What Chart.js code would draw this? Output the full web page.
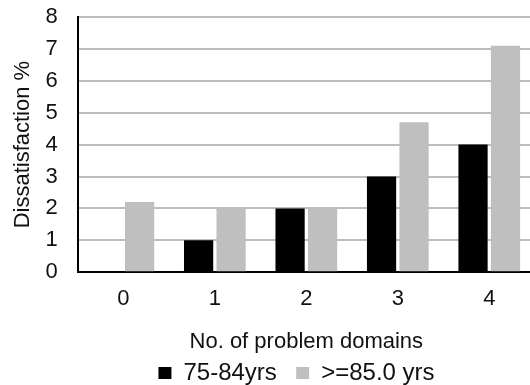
<!DOCTYPE html>
<html>
<head>
<meta charset="utf-8">
<script src="https://cdn.jsdelivr.net/npm/chart.js@4"></script>
<style>
html,body{margin:0;padding:0;background:#fff;overflow:hidden;width:530px;height:385px;}
#wrap{position:absolute;left:0;top:0;width:590px;height:385px;}
</style>
</head>
<body>
<div id="wrap"><canvas id="c" width="590" height="385"></canvas></div>
<script>
const categories = ['0', '1', '2', '3', '4'];
const series1Name = '75-84yrs';
const series1 = [0, 1, 2, 3, 4];
const series2Name = '>=85.0 yrs';
const series2 = [2.2, 2, 2, 4.7, 7.1];
const yTicks = [0, 1, 2, 3, 4, 5, 6, 7, 8];

const FONT = 'Liberation Sans, Arial, sans-serif';
const shiftLegend = {
  id: 'shiftLegend',
  afterLayout(chart) {
    const lg = chart.legend;
    if (lg) { lg.left += 24; lg.right += 24; }
  }
};
new Chart(document.getElementById('c'), {
  type: 'bar',
  data: {
    labels: categories,
    datasets: [
      {label: series1Name, data: series1, backgroundColor: '#000000', borderWidth: 0},
      {label: series2Name, data: series2, backgroundColor: '#bfbfbf', borderWidth: 0}
    ]
  },
  plugins: [shiftLegend],
  options: {
    responsive: false,
    devicePixelRatio: 1,
    animation: false,
    layout: {padding: {left: 10, right: 55, top: 17, bottom: -10}},
    datasets: {bar: {categoryPercentage: 0.71, barPercentage: 0.9}},
    plugins: {
      legend: {
        position: 'bottom',
        labels: {
          font: {family: FONT, size: 24},
          color: '#111',
          boxWidth: 13,
          boxHeight: 12,
          padding: 6,
          generateLabels: (chart) => {
            const items = Chart.defaults.plugins.legend.labels.generateLabels(chart);
            if (items.length) items[0].text = items[0].text + '  ';
            return items;
          }
        }
      },
      tooltip: {enabled: false}
    },
    scales: {
      x: {
        grid: {display: false, drawTicks: false},
        border: {display: true, color: '#000', width: 2},
        ticks: {font: {family: FONT, size: 22}, color: '#111', padding: 14},
        title: {display: true, text: 'No. of problem domains', font: {family: FONT, size: 22}, color: '#111', padding: {top: 2, bottom: 0}}
      },
      y: {
        min: 0, max: 8,
        afterBuildTicks: (axis) => { axis.ticks = yTicks.map(v => ({value: v})); },
        grid: {color: '#bdbdbd', lineWidth: 2, drawTicks: true, tickLength: 20, tickColor: 'rgba(0,0,0,0)'},
        border: {display: true, color: '#000', width: 2},
        ticks: {font: {family: FONT, size: 22}, color: '#111', padding: 0, autoSkip: false},
        title: {display: true, text: 'Dissatisfaction %', font: {family: FONT, size: 22}, color: '#111', padding: {top: 0, bottom: 9}}
      }
    }
  }
});
</script>
</body>
</html>
